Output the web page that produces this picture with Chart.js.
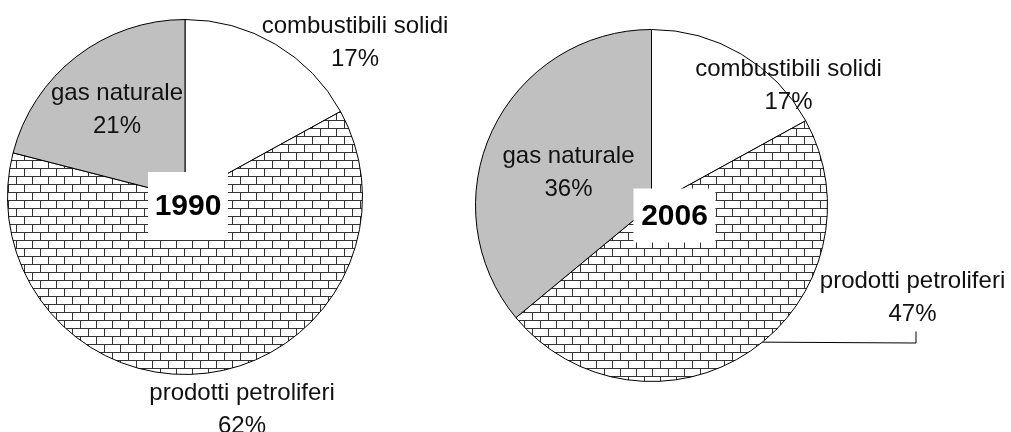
<!DOCTYPE html>
<html>
<head>
<meta charset="utf-8">
<script src="https://cdn.jsdelivr.net/npm/chart.js@4"></script>
<style>
  html, body { margin: 0; padding: 0; background: #fff; }
  #wrap { position: relative; width: 1011px; height: 432px; overflow: hidden; }
  canvas { position: absolute; top: 0; }
  #c1990 { left: 0; }
  #c2006 { left: 460px; }
</style>
</head>
<body>
<div id="wrap">
  <canvas id="c1990" width="460" height="432"></canvas>
  <canvas id="c2006" width="551" height="432"></canvas>
</div>
<script>
// ── dati ──
const categories = ['combustibili solidi', 'prodotti petroliferi', 'gas naturale'];
const years = ['1990', '2006'];
const share1990 = [17, 62, 21];
const share2006 = [17, 47, 36];

const LABEL_FONT = '24px "Liberation Sans", Arial, sans-serif';
const YEAR_FONT = 'bold 30px "Liberation Sans", Arial, sans-serif';
const LINE_H = 33;

// posizione etichette rispetto al centro della torta (px)
const layout1990 = {
    labels: [{ dx: 170, dy: -164 }, { dx: 57, dy: 203 }, { dx: -68, dy: -97 }],
    box: { dx: 3, dy: 9, w: 80, h: 68 },
    padding: { left: 7, top: 19, right: 97, bottom: 57 },
};
const layout2006 = {
    labels: [{ dx: 137, dy: -130 }, { dx: 261, dy: 82 }, { dx: -83, dy: -43 }],
    box: { dx: 23, dy: 10, w: 82, h: 54 },
    padding: { left: 15, top: 29, right: 183, bottom: 50 },
    leader: { x: 264, yTop: 126, yBot: 137, angle: 0.889 },
};

// ── motivo a mattoni ──
function brickPattern(ctx) {
    const tile = document.createElement('canvas');
    tile.width = 16;
    tile.height = 16;
    const g = tile.getContext('2d');
    g.fillStyle = '#fff';
    g.fillRect(0, 0, 16, 16);
    g.fillStyle = '#333';
    g.fillRect(0, 0, 16, 1);
    g.fillRect(0, 8, 16, 1);
    g.fillRect(0, 0, 1, 8);
    g.fillRect(8, 8, 1, 8);
    return ctx.createPattern(tile, 'repeat');
}

// ── etichette, riquadro anno, linea guida ──
const labelPlugin = {
    id: 'sliceLabels',
    afterDatasetsDraw(chart, args, opts) {
        const ctx = chart.ctx;
        const arc = chart.getDatasetMeta(0).data[0];
        const cx = arc.x, cy = arc.y, r = arc.outerRadius;
        const values = chart.data.datasets[0].data;
        const lay = opts.layout;

        ctx.save();
        // riquadro bianco con l'anno
        const b = lay.box;
        ctx.fillStyle = '#fff';
        ctx.fillRect(cx + b.dx - b.w / 2, cy + b.dy - b.h / 2, b.w, b.h);
        ctx.fillStyle = '#000';
        ctx.font = YEAR_FONT;
        ctx.textAlign = 'center';
        ctx.textBaseline = 'middle';
        ctx.fillText(opts.year, cx + b.dx, cy + b.dy + 1);

        // etichette fette
        ctx.font = LABEL_FONT;
        ctx.textBaseline = 'alphabetic';
        ctx.fillStyle = '#111';
        chart.data.labels.forEach((name, i) => {
            const p = lay.labels[i];
            ctx.fillText(name, cx + p.dx, cy + p.dy);
            ctx.fillText(values[i] + '%', cx + p.dx, cy + p.dy + LINE_H);
        });

        // linea guida
        if (lay.leader) {
            const L = lay.leader;
            ctx.strokeStyle = '#000';
            ctx.lineWidth = 1;
            ctx.beginPath();
            ctx.moveTo(cx + L.x + 0.5, cy + L.yTop);
            ctx.lineTo(cx + L.x + 0.5, cy + L.yBot + 0.5);
            ctx.lineTo(cx + r * Math.cos(L.angle), cy + r * Math.sin(L.angle));
            ctx.stroke();
        }
        ctx.restore();
    },
};

function makePie(id, year, values, lay) {
    const ctx = document.getElementById(id).getContext('2d');
    return new Chart(ctx, {
        type: 'pie',
        data: {
            labels: categories,
            datasets: [{
                data: values,
                backgroundColor: ['#ffffff', brickPattern(ctx), '#c0c0c0'],
                borderColor: '#000',
                borderWidth: 1,
            }],
        },
        options: {
            responsive: false,
            animation: false,
            devicePixelRatio: 1,
            layout: { padding: lay.padding },
            plugins: {
                legend: { display: false },
                tooltip: { enabled: false },
                sliceLabels: { year: year, layout: lay },
            },
        },
        plugins: [labelPlugin],
    });
}

makePie('c1990', years[0], share1990, layout1990);
makePie('c2006', years[1], share2006, layout2006);
</script>
</body>
</html>
